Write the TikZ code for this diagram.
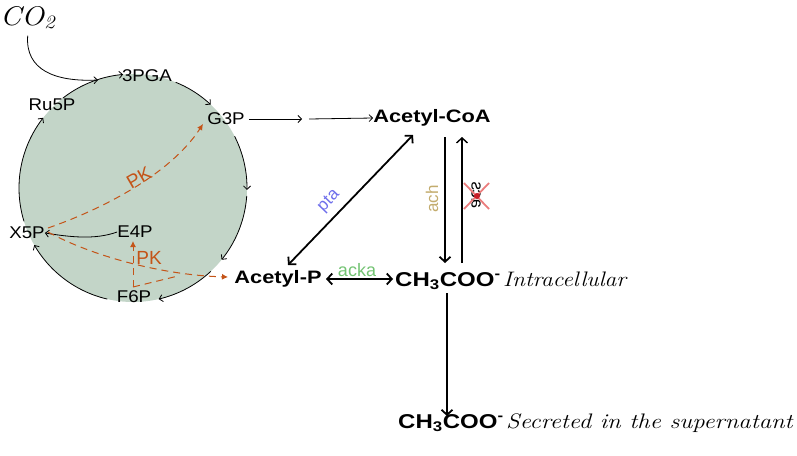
\documentclass[tikz,border=0pt]{standalone}
\usepackage{fontspec}
\newfontfamily\arial{Liberation Sans}
\usetikzlibrary{arrows.meta}
\definecolor{cellfill}{RGB}{195,213,200}
\definecolor{pkorange}{RGB}{196,84,24}
\definecolor{ptablue}{RGB}{110,110,235}
\definecolor{ackagreen}{RGB}{115,195,115}
\definecolor{achtan}{RGB}{195,172,110}
\definecolor{xred}{RGB}{235,125,125}
\definecolor{dotred}{RGB}{200,30,40}
\begin{document}
\begin{tikzpicture}[x=1pt,y=-1pt,
  met/.style={font=\arial\fontsize{17}{17}\selectfont, inner sep=0pt, xscale=1.1},
  bigm/.style={font=\arial\bfseries\fontsize{18}{18}\selectfont, inner sep=0pt, xscale=1.21},
  chem/.style={font=\arial\bfseries\fontsize{20}{20}\selectfont, inner sep=0pt, xscale=1.2},
  hand/.style={font=\itshape\fontsize{21}{21}\selectfont, inner sep=0pt, xscale=1.12},
  enz/.style={font=\arial\fontsize{17}{17}\selectfont, inner sep=0pt},
  pklbl/.style={font=\arial\fontsize{19}{19}\selectfont, text=pkorange, inner sep=0pt},
  thinarr/.style={-{Straight Barb[length=3.5pt,width=7pt]}, line width=0.8pt},
  bigarr/.style={-{Straight Barb[length=5pt,width=11pt]}, line width=1.8pt},
  bothbig/.style={{Straight Barb[length=5pt,width=11pt]}-{Straight Barb[length=5pt,width=11pt]}, line width=1.8pt},
  pkdash/.style={draw=pkorange, line width=1pt, dash pattern=on 7pt off 5pt},
  pkarr/.style={pkdash, -{Latex[length=6pt,width=6pt]}}
]
\useasboundingbox (0,0) rectangle (797,455);

% cell
\fill[cellfill] (133,188) circle[radius=114pt];

% metabolite labels in the cycle
\node[hand, font=\itshape\fontsize{27}{27}\selectfont, anchor=base west, xscale=1] (co2) at (0,25) {CO\textsubscript{2}};
\node[met] (pga) at (147,76) {3PGA};
\node[met] (ru5p) at (52,105) {Ru5P};
\node[met] (g3p) at (226,119) {G3P};
\node[met] (x5p) at (27,233) {X5P};
\node[met] (e4p) at (135,232) {E4P};
\node[met] (f6p) at (134,297) {F6P};

% cycle arcs
\draw[thinarr] plot[domain=163:218, samples=40] ({133+114*cos(\x)},{188+114*sin(\x)});
\draw[thinarr] plot[domain=232:265, samples=40] ({133+114*cos(\x)},{188+114*sin(\x)});
\draw[thinarr] plot[domain=292:313, samples=30] ({133+114*cos(\x)},{188+114*sin(\x)});
\draw[thinarr] plot[domain=333:361, samples=30] ({133+114*cos(\x)},{188+114*sin(\x)});
\draw[thinarr] plot[domain=4:39, samples=40] ({133+114*cos(\x)},{188+114*sin(\x)});
\draw[thinarr] plot[domain=47:77, samples=40] ({133+114*cos(\x)},{188+114*sin(\x)});
\draw[thinarr] plot[domain=103:150, samples=40] ({133+114*cos(\x)},{188+114*sin(\x)});

% CO2 into cycle
\coordinate (co2end) at (98,80);
\draw[thinarr] (co2.south) ++(0,6) .. controls (25,70) and (55,82) .. (co2end);

% E4P -> X5P
\draw[thinarr] (e4p.west) .. controls (95,240) and (70,237) .. (x5p.east);

% right-hand metabolites
\node[bigm] (coa) at (432,118) {Acetyl-CoA};
\node[bigm] (acp) at (278,279) {Acetyl-P};
\node[chem, anchor=base west] (ac1) at (395,286) {CH\textsubscript{3}COO\textsuperscript{-}};
\node[hand, anchor=base west] (intra) at (503,286) {Intracellular};
\node[chem, anchor=base west] (ac2) at (398,428) {CH\textsubscript{3}COO\textsuperscript{-}};
\node[hand, anchor=base west, xscale=1.05] (secr) at (506,428) {Secreted in the supernatant};

% G3P -> Acetyl-CoA (two steps)
\coordinate (s1) at (302,119);
\coordinate (s2) at (309,119);
\draw[thinarr] (g3p.east) ++(4,0) -- (s1);
\draw[thinarr] (s2) -- (coa.west);

% PK dashed routes
\coordinate (pkA) at (48,228);
\coordinate (pkB) at (203,124);
\draw[pkarr] (pkA) .. controls (100,210) and (170,175) .. (pkB);
\node[pklbl, rotate=30] (pk1) at (139,178) {PK};

\coordinate (pkC) at (48,232);
\coordinate (pkD) at (228,277);
\draw[pkarr] (pkC) .. controls (90,255) and (160,275) .. (pkD);

\coordinate (pkF) at (133,287);
\coordinate (pkE) at (133,241);
\coordinate (pkM) at (178,276);
\draw[pkarr] (pkF) -- (pkE);
\draw[pkdash] (pkF) -- (pkM);
\node[pklbl] (pk2) at (149,258) {PK};

% acetate pathway arrows
\coordinate (ptaA) at (288,265);
\coordinate (ptaB) at (413,135);
\draw[bothbig] (ptaA) -- (ptaB);
\node[enz, text=ptablue, rotate=46] (pta) at (329,201) {pta};

\coordinate (ackA) at (326,279);
\coordinate (ackB) at (393,279);
\draw[bothbig] (ackA) -- (ackB);
\node[enz, text=ackagreen, font=\arial\fontsize{18}{18}\selectfont] (acka) at (357,270) {acka};

\coordinate (achA) at (445,137);
\coordinate (achB) at (445,263);
\draw[bigarr] (achA) -- (achB);
\node[enz, text=achtan, rotate=90] (ach) at (432,199) {ach};

\coordinate (acsA) at (462,263);
\coordinate (acsB) at (462,137);
\draw[bigarr, line width=1.4pt] (acsA) -- (acsB);
\node[enz, text=black, rotate=90, yscale=-1] (acs) at (476,195) {acs};
\draw[xred, line width=1.8pt] (464,183) -- (489,209) (489,183) -- (464,209);
\fill[dotred] (477,196) circle[radius=3pt];

\coordinate (secA) at (447,293);
\coordinate (secB) at (447,416);
\draw[bigarr] (secA) -- (secB);
\end{tikzpicture}
\end{document}
